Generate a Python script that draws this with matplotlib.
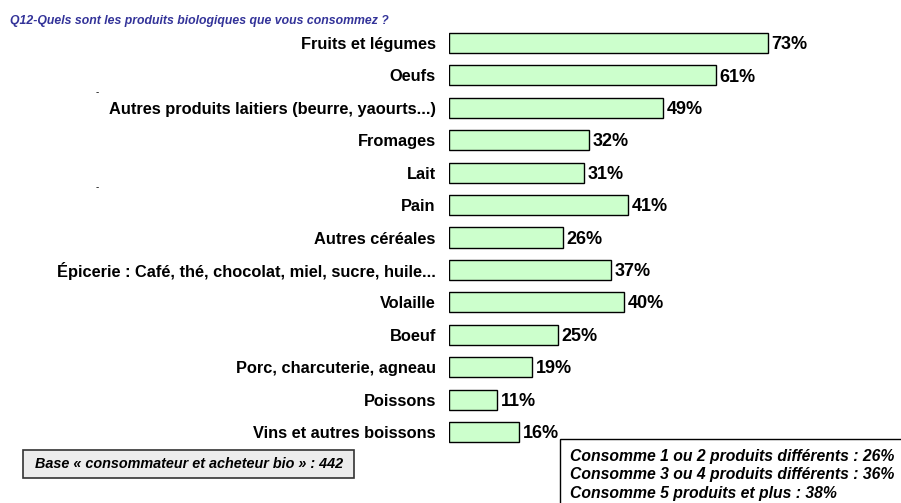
import matplotlib
matplotlib.use("Agg")
import matplotlib.pyplot as plt
from matplotlib.patches import Rectangle

categories = [
    "Fruits et légumes",
    "Oeufs",
    "Autres produits laitiers (beurre, yaourts...)",
    "Fromages",
    "Lait",
    "Pain",
    "Autres céréales",
    "Épicerie : Café, thé, chocolat, miel, sucre, huile...",
    "Volaille",
    "Boeuf",
    "Porc, charcuterie, agneau",
    "Poissons",
    "Vins et autres boissons",
]
values = [73, 61, 49, 32, 31, 41, 26, 37, 40, 25, 19, 11, 16]

title = "Q12-Quels sont les produits biologiques que vous consommez ?"
base_text = "Base « consommateur et acheteur bio » : 442"
summary_lines = [
    "Consomme 1 ou 2 produits différents : 26%",
    "Consomme 3 ou 4 produits différents : 36%",
    "Consomme 5 produits et plus : 38%",
]

plt.rcParams['font.family'] = ['Liberation Sans', 'DejaVu Sans']

W, H = 901, 503
fig = plt.figure(figsize=(W / 100, H / 100), dpi=100)
fig.patch.set_facecolor("white")

px_per_pct = 4.37
ax_left = 449
ax_top = 26.8
ax_bot = 448.2
ax_w = 100 * px_per_pct
ax = fig.add_axes([ax_left / W, 1 - ax_bot / H, ax_w / W, (ax_bot - ax_top) / H])
ax.set_xlim(0, 100)
ax.set_ylim(len(categories) - 0.5, -0.5)
ypos = list(range(len(categories)))
ax.barh(ypos, values, height=0.62, color="#ccffcc", edgecolor="black", linewidth=1.0)
for y, v in zip(ypos, values):
    ax.text(v + 0.8, y + 0.05, f"{v}%", va="center", ha="left",
            fontsize=13, fontweight="bold", color="black")
ax.set_yticks(ypos)
ax.set_yticklabels(categories, fontsize=11.8, fontweight="bold")
ax.tick_params(axis="y", length=0, pad=9.5)
ax.set_xticks([])
for s in ax.spines.values():
    s.set_visible(False)
ax.patch.set_alpha(0)

fig.text(10 / W, 1 - 21 / H, title, fontsize=8.8, fontweight="bold", fontstyle="italic",
         color="#333399", ha="left", va="center")

fig.text(97 / W, 1 - 92 / H, "-", fontsize=7, color="black", ha="center", va="center")
fig.text(97 / W, 1 - 187 / H, "-", fontsize=7, color="black", ha="center", va="center")

fig.patches.append(Rectangle((23 / W, 1 - 478 / H), (354 - 23) / W, (478 - 450) / H,
                             transform=fig.transFigure, facecolor="#ececec",
                             edgecolor="#333333", linewidth=1.2))
fig.text(189 / W, 1 - 464.5 / H, base_text, fontsize=10.4, fontweight="bold",
         fontstyle="italic", ha="center", va="center", color="black")

fig.patches.append(Rectangle((560 / W, 1 - 520 / H), 400 / W, (520 - 439) / H,
                             transform=fig.transFigure, facecolor="white",
                             edgecolor="black", linewidth=1.0))
for i, line in enumerate(summary_lines):
    fig.text(570 / W, 1 - (456.5 + 18.5 * i) / H, line, fontsize=11.3, fontweight="bold",
             fontstyle="italic", ha="left", va="center", color="black")

fig.savefig("out.png", dpi=100, facecolor="white")
